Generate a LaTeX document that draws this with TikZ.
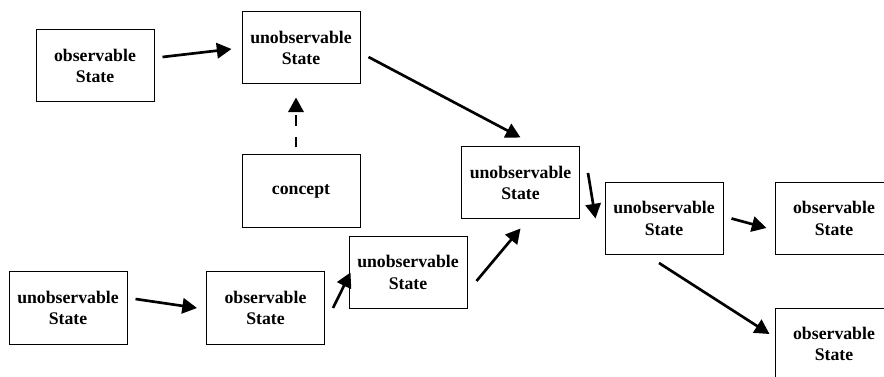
\documentclass[tikz,border=0pt]{standalone}
\usepackage{fontspec}
\setmainfont{Liberation Serif}
\usetikzlibrary{arrows.meta}
\usetikzlibrary{calc}

\begin{document}
\begin{tikzpicture}[x=0.75pt,y=0.75pt,yscale=-1,xscale=1,
  statebox/.style={draw, line width=0.75pt, minimum width=88.5pt, minimum height=54pt, inner sep=0pt, align=center, font=\bfseries\fontsize{13.3}{16.3}\selectfont},
  arr/.style={line width=2pt, -{Triangle[length=11pt,width=11.5pt]}}]
%set diagram left start at 0, and has height of 377
\clip (0,0) rectangle (884,377);

%Shape: Rectangle [observable, top left]
\node [statebox] (obsA) at (95,66) {observable\\State};
%Shape: Rectangle [unobservable, top]
\node [statebox] (unobsB) at (301,48) {unobservable\\State};
%Shape: Rectangle [concept]
\node [statebox, minimum height=54.75pt] (concept) at (301,191.5) {concept};
%Shape: Rectangle [unobservable, middle]
\node [statebox] (unobsC) at (520.5,183) {unobservable\\State};
%Shape: Rectangle [unobservable, right]
\node [statebox] (unobsD) at (664,218.5) {unobservable\\State};
%Shape: Rectangle [observable, right]
\node [statebox] (obsE) at (834,218.5) {observable\\State};
%Shape: Rectangle [observable, bottom right]
\node [statebox] (obsF) at (834,344) {observable\\State};
%Shape: Rectangle [unobservable, bottom left]
\node [statebox] (unobsG) at (68,308) {unobservable\\State};
%Shape: Rectangle [observable, bottom]
\node [statebox] (obsH) at (265.5,308) {observable\\State};
%Shape: Rectangle [unobservable, lower]
\node [statebox] (unobsI) at (408,272.5) {unobservable\\State};

%Straight Lines [top row]
\draw [arr] ($(obsA.east)+(8,-9)$) -- ($(unobsB.west)+(-10,1)$);
\draw [arr] ($(unobsB.east)+(8,9)$) -- ($(unobsC.north)+(0,-9)$);
%Straight Lines [concept, dashed]
\draw [arr, dash pattern=on 8pt off 8pt] ($(concept.north)+(-5,-7)$) -- ($(unobsB.south)+(-5,13)$);
%Straight Lines [right part]
\draw [arr] ($(unobsC.east)+(8,-10)$) -- ($(unobsD.west)+(-9,0)$);
\draw [arr] ($(unobsD.east)+(8,0)$) -- ($(obsE.west)+(-8,9.5)$);
\draw [arr] ($(unobsD.south)+(-5,8)$) -- ($(obsF.west)+(-5,-10)$);
%Straight Lines [bottom row]
\draw [arr] ($(unobsG.east)+(8,-9)$) -- ($(obsH.west)+(-9,0)$);
\draw [arr] ($(obsH.east)+(8,0)$) -- ($(unobsI.west)+(2,0)$);
\draw [arr] ($(unobsI.east)+(9,8.5)$) -- ($(unobsC.south)+(0,9)$);

\end{tikzpicture}
\end{document}
